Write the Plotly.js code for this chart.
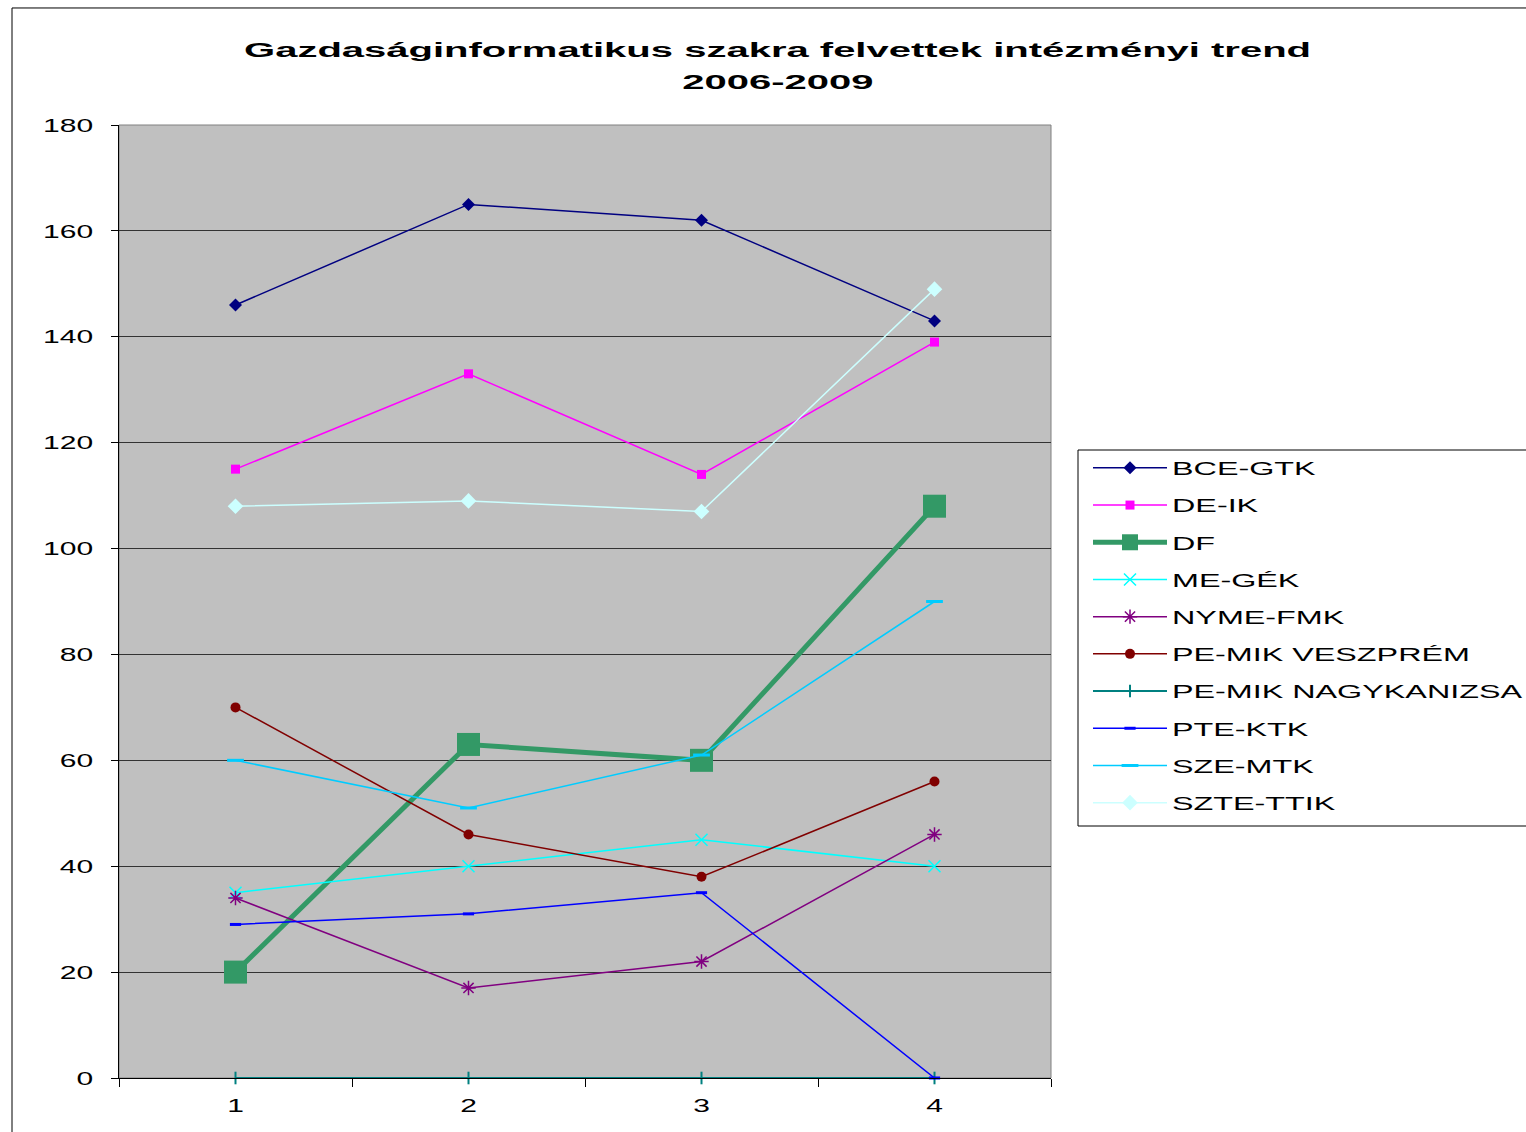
<!DOCTYPE html>
<html>
<head>
<meta charset="utf-8">
<script src="https://cdn.plot.ly/plotly-3.0.1.min.js"></script>
<style>
html,body{margin:0;padding:0;background:#fff;}
#chart{width:1526px;height:1132px;}
</style>
</head>
<body>
<div id="chart"></div>
<script>
const categories = [1, 2, 3, 4];
const seriesNames = ["BCE-GTK","DE-IK","DF","ME-GÉK","NYME-FMK","PE-MIK VESZPRÉM","PE-MIK NAGYKANIZSA","PTE-KTK","SZE-MTK","SZTE-TTIK"];
const bceGtk = [146, 165, 162, 143];
const deIk = [115, 133, 114, 139];
const df = [20, 63, 60, 108];
const meGek = [35, 40, 45, 40];
const nymeFmk = [34, 17, 22, 46];
const peMikVeszprem = [70, 46, 38, 56];
const peMikNagykanizsa = [0, 0, 0, 0];
const pteKtk = [29, 31, 35, 0];
const szeMtk = [60, 51, 61, 90];
const szteTtik = [108, 109, 107, 149];
const yTicks = [0, 20, 40, 60, 80, 100, 120, 140, 160, 180];
const titleLine1 = "Gazdaságinformatikus szakra felvettek intézményi trend";
const titleLine2 = "2006-2009";

const values = [bceGtk, deIk, df, meGek, nymeFmk, peMikVeszprem, peMikNagykanizsa, pteKtk, szeMtk, szteTtik];
const styles = [
  {color:"#000080", w:1.5, sym:"diamond", size:10, lw:0},
  {color:"#FF00FF", w:1.5, sym:"square", size:9, lw:0},
  {color:"#339966", w:5, sym:"square", size:23, lw:0},
  {color:"#00FFFF", w:1.5, sym:"x-thin-open", size:12, lw:1.5},
  {color:"#800080", w:1.5, sym:"asterisk-open", size:12, lw:1.5},
  {color:"#800000", w:1.5, sym:"circle", size:10, lw:0},
  {color:"#008080", w:2, sym:"line-ns-open", size:9, lw:2},
  {color:"#0000FF", w:1.5, sym:"line-ew-open", size:8, lw:3},
  {color:"#00CCFF", w:1.5, sym:"line-ew-open", size:12, lw:3},
  {color:"#CCFFFF", w:1.5, sym:"diamond", size:12, lw:0}
];

const traces = seriesNames.map((n, i) => ({
  type: "scatter",
  mode: "lines+markers",
  name: n,
  legendgroup: "g" + i,
  x: categories,
  y: values[i],
  line: {color: styles[i].color, width: styles[i].w},
  marker: {symbol: styles[i].sym, size: styles[i].size, color: styles[i].color,
           line: {color: styles[i].color, width: styles[i].lw}},
  cliponaxis: false
}));

const layout = {
  width: 1526, height: 1132,
  paper_bgcolor: "#ffffff",
  plot_bgcolor: "#C0C0C0",
  margin: {l: 119, r: 475, t: 125, b: 54},
  font: {family: "Liberation Sans, Arial, sans-serif", color: "#000"},
  title: {
    text: "<b>" + titleLine1 + "</b>",
    font: {size: 20, color: "#000"},
    x: 0.7066, xref: "paper", xanchor: "center",
    y: 1 - 50/1132, yref: "container", yanchor: "middle"
  },
  annotations: [{
    text: "<b>" + titleLine2 + "</b>", showarrow: false,
    xref: "paper", yref: "paper", x: 0.7076, y: (1078-82)/953,
    xanchor: "center", yanchor: "middle",
    font: {size: 20, color: "#000"}
  }],
  xaxis: {
    range: [0.5, 4.5],
    tickmode: "array", tickvals: categories, ticktext: categories.map(String),
    ticks: "", showgrid: false, zeroline: false,
    showline: true, linecolor: "#000", linewidth: 1,
    tickfont: {size: 19}, ticklabelstandoff: 10,
    minor: {tickmode: "array", tickvals: [0.5, 1.5, 2.5, 3.5, 4.5], ticks: "outside", ticklen: 8, tickcolor: "#000", showgrid: false},
    fixedrange: true
  },
  yaxis: {
    range: [0, 180],
    tickmode: "array", tickvals: yTicks, ticktext: yTicks.map(String),
    ticks: "outside", ticklen: 7, tickcolor: "#000",
    showgrid: true, gridcolor: "#333333", gridwidth: 1,
    zeroline: false, showline: true, linecolor: "#000", linewidth: 1,
    tickfont: {size: 19}, ticklabelstandoff: 14,
    fixedrange: true
  },
  legend: {
    x: (1088-119)/932, xanchor: "left", y: 0.660, yanchor: "top",
    bgcolor: "rgba(0,0,0,0)", bordercolor: "#000", borderwidth: 0,
    font: {size: 19, color: "#000"},
    traceorder: "grouped", tracegroupgap: 9.5,
    itemwidth: 74
  },
  shapes: [
    {type: "rect", xref: "paper", yref: "paper", x0: 0, x1: 1, y0: 0, y1: 1,
     line: {color: "#808080", width: 1}, fillcolor: "rgba(0,0,0,0)", layer: "below"},
    {type: "line", xref: "paper", yref: "paper", x0: -0.1148, x1: -0.1148, y0: 1.1228, y1: -0.1,
     line: {color: "#000", width: 1}},
    {type: "line", xref: "paper", yref: "paper", x0: -0.1148, x1: 1.6, y0: 1.1228, y1: 1.1228,
     line: {color: "#000", width: 1}},
    {type: "rect", xref: "paper", yref: "paper", x0: (1078-119)/932, x1: 1.53, y0: (1078-450)/953, y1: (1078-826)/953,
     line: {color: "#000", width: 1}, fillcolor: "#ffffff", layer: "below"}
  ],
  showlegend: true
};

function stretch(sel, factor) {
  document.querySelectorAll(sel).forEach(el => {
    const len = el.getComputedTextLength();
    if (len > 0) {
      el.setAttribute("textLength", (len * factor).toFixed(1));
      el.setAttribute("lengthAdjust", "spacingAndGlyphs");
    }
  });
}

Plotly.newPlot("chart", traces, layout, {displayModeBar: false, staticPlot: true}).then(() => {
  stretch(".gtitle", 2.0);
  stretch(".annotation-text", 2.0);
  stretch(".ytick text", 1.58);
  stretch(".xtick text", 1.58);
  stretch(".legendtext", 1.7);
  document.querySelectorAll(".legend .scrollbox, .legend [clip-path]").forEach(e => e.removeAttribute("clip-path"));
});
</script>
</body>
</html>
